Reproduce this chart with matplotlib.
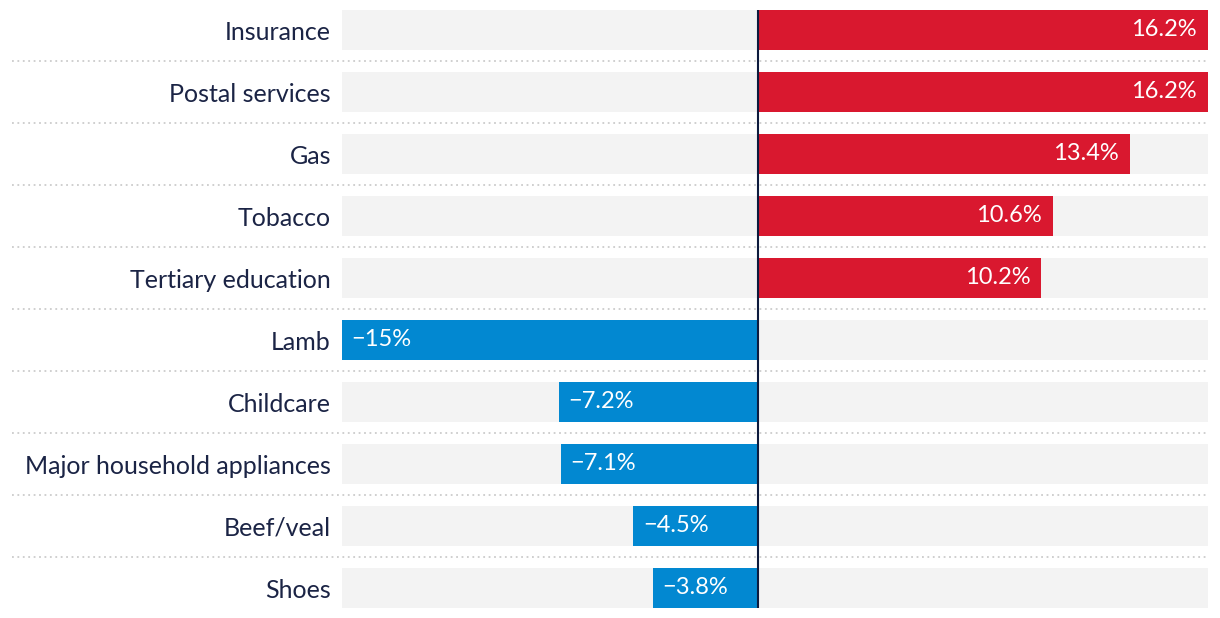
import matplotlib.pyplot as plt

categories = ["Insurance", "Postal services", "Gas", "Tobacco", "Tertiary education",
              "Lamb", "Childcare", "Major household appliances", "Beef/veal", "Shoes"]
values = [16.2, 16.2, 13.4, 10.6, 10.2, -15, -7.2, -7.1, -4.5, -3.8]
labels = ["16.2%", "16.2%", "13.4%", "10.6%", "10.2%",
          "\u221215%", "\u22127.2%", "\u22127.1%", "\u22124.5%", "\u22123.8%"]

RED = "#d9182f"
BLUE = "#0288d1"
TEXT = "#1b2445"

plt.rcParams["font.family"] = ["Lato", "DejaVu Sans"]

fig = plt.figure(figsize=(12.2, 6.18), dpi=100)
ax = fig.add_axes([342 / 1220, 10 / 618, 866 / 1220, 598 / 618])

xmin, xmax = -15, 16.2
h = 40 / 62
y = list(range(len(categories)))

ax.barh(y, [xmax - xmin] * len(y), left=xmin, height=h, color="#f3f3f3", zorder=1)
colors = [RED if v > 0 else BLUE for v in values]
ax.barh(y, values, height=h, color=colors, zorder=2)

for i, (v, lab) in enumerate(zip(values, labels)):
    if v > 0:
        ax.text(v - 0.4, i, lab, ha="right", va="center", color="white", fontsize=17, zorder=3)
    else:
        ax.text(v + 0.34, i, lab, ha="left", va="center", color="white", fontsize=17, zorder=3)

# dotted separators
tr = ax.get_yaxis_transform()
for i in range(len(y) - 1):
    ax.plot([-330 / 866, 1], [i + 0.5, i + 0.5], transform=tr, color="#cccccc",
            linestyle=(0, (1, 2)), linewidth=1.3, clip_on=False, zorder=0)

ax.axvline(0, color="#0d1b3e", linewidth=1.5, zorder=4)

ax.set_xlim(xmin, xmax)
ax.set_ylim(len(y) - 1 + h / 2, -h / 2)
ax.set_yticks(y)
ax.set_yticklabels(categories, fontsize=18, color=TEXT)
ax.tick_params(axis="y", length=0, pad=8)
ax.set_xticks([])
for s in ax.spines.values():
    s.set_visible(False)

fig.savefig("out.png", dpi=100)
